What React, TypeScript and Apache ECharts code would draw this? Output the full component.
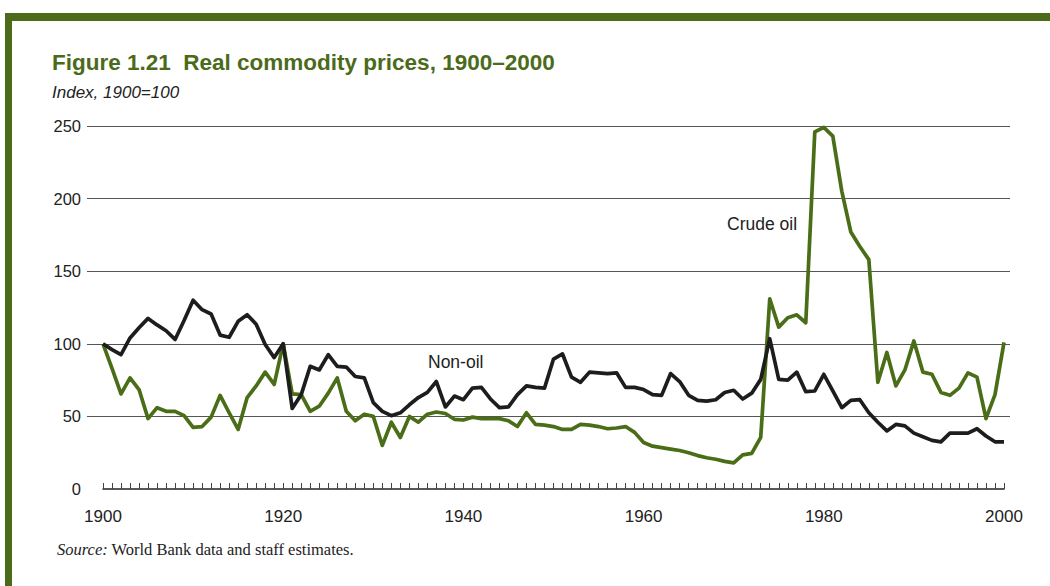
import React, { useEffect, useRef } from "react";
import * as echarts from "echarts";

const years: string[] = Array.from({ length: 101 }, (_, i) => String(1900 + i));

const nonOil: number[] = [
  100, 96, 92.5, 104, 111, 117.5, 113, 109, 103, 116,
  130, 123.5, 120.5, 106, 104.5, 115.5, 120, 113.5, 99.5, 90.5,
  100, 55.5, 65, 84.5, 82, 92.5, 84.5, 84, 77.5, 76.5,
  59.5, 53.5, 50.5, 52.5, 58, 63, 66.5, 74, 56.5, 64,
  61.5, 69.5, 70, 62, 56, 56.5, 65, 71, 70, 69.5,
  89.5, 93, 77, 73.5, 80.5, 80, 79.5, 80, 70, 70,
  68.5, 65, 64.5, 79.5, 74, 64.5, 61, 60.5, 61.5, 66.5,
  68, 62, 66, 75.5, 103.5, 75.5, 75, 80.5, 67, 67.5,
  79, 67.5, 56, 61, 61.5, 52.5, 46, 40, 44.5, 43.5,
  38.5, 36, 33.5, 32.5, 38.5, 38.5, 38.5, 41.5, 36.5, 32.5,
  32.5,
];

const crudeOil: number[] = [
  100, 83, 65.5, 76.5, 68.5, 48.5, 56, 53.5, 53.5, 50.5,
  42.5, 43, 49.5, 64.5, 52.5, 41, 63, 71, 80.5, 72,
  100, 65.5, 65, 53.5, 57, 66, 76.5, 53.5, 47, 51.5,
  50, 30, 46, 35.5, 50, 46, 51.5, 53, 52, 48,
  47.5, 49.5, 48.5, 48.5, 48.5, 47, 43, 52.5, 44.5, 44,
  43, 41, 41, 44.5, 44, 43, 41.5, 42, 43, 39,
  32, 29.5, 28.5, 27.5, 26.5, 25, 23, 21.5, 20.5, 19,
  18, 23.5, 24.5, 35.5, 131, 111.5, 118, 120, 114.5, 246,
  249, 243, 205, 177, 167, 158, 73.5, 94, 71, 82,
  102, 80.5, 79, 66.5, 64.5, 69.5, 80, 77, 48.5, 65,
  101,
];

const yMin = 0;
const yMax = 250;
const yStep = 50;
const labelEvery = 20;

const titleText = "Figure 1.21  Real commodity prices, 1900\u20132000";
const subtitleText = "Index, 1900=100";
const sourceRest = " World Bank data and staff estimates.";
const crudeLabel = "Crude oil";
const nonOilLabel = "Non-oil";

export default function App() {
  const ref = useRef<HTMLDivElement>(null);

  useEffect(() => {
    if (!ref.current) return;
    const chart = echarts.init(ref.current, null, { renderer: "svg" });
    const green = "#4b6b1b";
    const lineGreen = "#4a6d17";
    const sans = '"Liberation Sans", Arial, Helvetica, sans-serif';
    const serif = '"Liberation Serif", "Times New Roman", serif';

    chart.setOption({
      animation: false,
      backgroundColor: "#ffffff",
      textStyle: { fontFamily: sans },
      grid: [
        { left: 87, right: 40, top: 126, bottom: 97 },
        { left: 103, right: 46, top: 126, bottom: 97 },
      ],
      xAxis: [
        { gridIndex: 0, type: "value", min: 0, max: 1, show: false },
        {
          gridIndex: 1,
          type: "category",
          data: years,
          boundaryGap: false,
          axisLine: { show: true, lineStyle: { color: "#222", width: 1.5 } },
          axisTick: {
            show: true,
            inside: true,
            length: 6,
            interval: 0,
            lineStyle: { color: "#444", width: 1 },
          },
          axisLabel: {
            interval: labelEvery - 1,
            margin: 19,
            fontSize: 17,
            color: "#222",
            fontFamily: sans,
          },
          splitLine: { show: false },
        },
      ],
      yAxis: [
        {
          gridIndex: 0,
          type: "value",
          min: yMin,
          max: yMax,
          interval: yStep,
          axisLine: { show: false },
          axisTick: { show: false },
          axisLabel: { margin: 6, fontSize: 16.5, color: "#222", fontFamily: sans },
          splitLine: {
            show: true,
            lineStyle: {
              color: ["rgba(0,0,0,0)", "#555", "#555", "#555", "#555", "#555"],
              width: 1,
            },
          },
        },
        {
          gridIndex: 1,
          type: "value",
          min: yMin,
          max: yMax,
          interval: yStep,
          show: false,
        },
      ],
      series: [
        {
          name: "Crude oil",
          type: "line",
          xAxisIndex: 1,
          yAxisIndex: 1,
          data: crudeOil,
          symbol: "none",
          showSymbol: false,
          lineStyle: { color: lineGreen, width: 3.7, join: "round" },
          z: 3,
        },
        {
          name: "Non-oil",
          type: "line",
          xAxisIndex: 1,
          yAxisIndex: 1,
          data: nonOil,
          symbol: "none",
          showSymbol: false,
          lineStyle: { color: "#1d1d1d", width: 3.7, join: "round" },
          z: 4,
        },
      ],
      graphic: [
        { type: "rect", shape: { x: 5, y: 13, width: 1045, height: 8 }, style: { fill: green } },
        { type: "rect", shape: { x: 5, y: 13, width: 7, height: 573 }, style: { fill: green } },
        {
          type: "text",
          x: 52,
          y: 62,
          style: {
            text: titleText,
            fill: green,
            fontFamily: sans,
            fontSize: 22.5,
            fontWeight: "bold",
            verticalAlign: "middle",
          },
        },
        {
          type: "text",
          x: 52,
          y: 92,
          style: {
            text: subtitleText,
            fill: "#222",
            fontFamily: sans,
            fontSize: 17,
            fontStyle: "italic",
            verticalAlign: "middle",
          },
        },
        {
          type: "text",
          x: 57,
          y: 549,
          style: {
            text: "{i|Source:}{n|" + sourceRest + "}",
            fill: "#222",
            fontFamily: serif,
            fontSize: 16.5,
            verticalAlign: "middle",
            rich: {
              i: { fontFamily: serif, fontSize: 16.5, fontStyle: "italic", fill: "#222" },
              n: { fontFamily: serif, fontSize: 16.5, fill: "#222" },
            },
          },
        },
        {
          type: "text",
          x: 727,
          y: 224,
          style: {
            text: crudeLabel,
            fill: "#222",
            fontFamily: sans,
            fontSize: 17.5,
            verticalAlign: "middle",
          },
        },
        {
          type: "text",
          x: 428,
          y: 362,
          style: {
            text: nonOilLabel,
            fill: "#222",
            fontFamily: sans,
            fontSize: 17.5,
            verticalAlign: "middle",
          },
        },
      ],
    });

    return () => {
      chart.dispose();
    };
  }, []);

  return (
    <div
      ref={ref}
      style={{ position: "fixed", left: 0, top: 0, width: 1050, height: 586, background: "#fff" }}
    />
  );
}
